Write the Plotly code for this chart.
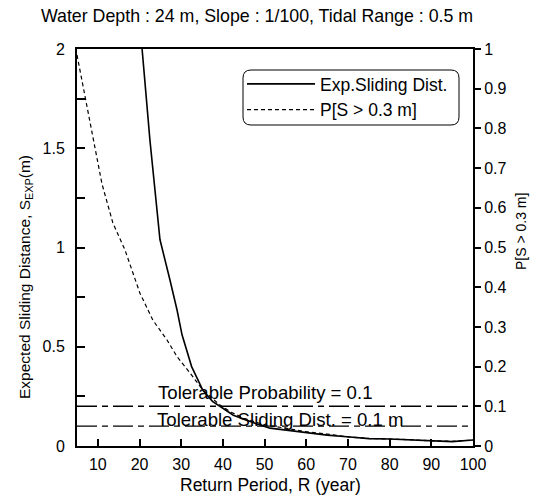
import plotly.graph_objects as go

# Expected sliding distance (left axis, m)
R_exp = [20.0, 20.6, 22.5, 23.7, 24.9, 27.3, 29.0, 30.2, 32.5, 35.2, 37.5, 40.0, 42.5,
         45.8, 48.0, 51.3, 55.0, 58.5, 60.9, 65.0, 70.5, 75.0, 80.0, 85.0, 90.4, 95.0, 100.0]
S_exp = [2.15, 2.00, 1.54, 1.29, 1.04, 0.836, 0.685, 0.56, 0.40, 0.28, 0.225, 0.19, 0.155,
         0.13, 0.112, 0.09, 0.08, 0.07, 0.065, 0.055, 0.045, 0.037, 0.035, 0.03, 0.025, 0.022, 0.03]

# Probability P[S > 0.3 m] (right axis)
R_p = [5.0, 8.84, 11.0, 13.6, 16.5, 20.1, 23.2, 26.6, 29.0, 32.1, 35.2, 39.3, 42.0, 45.0,
       50.0, 55.0, 60.0, 65.0, 70.0, 75.0, 80.0, 85.0, 90.0, 95.0, 100.0]
P = [0.985, 0.771, 0.66, 0.562, 0.494, 0.385, 0.317, 0.267, 0.225, 0.184, 0.141, 0.103, 0.085,
     0.07, 0.053, 0.045, 0.036, 0.03, 0.023, 0.019, 0.018, 0.016, 0.013, 0.012, 0.015]

# Tolerable limits
tol_prob = 0.1        # right axis
tol_slide = 0.1       # left axis (m)
R_span = [5, 100]

FONT = "Liberation Sans, Arial, sans-serif"
fs = 17.5
tick_fs = 16

# plot area in px: x 77..473, y 49..446
L, R, T, B = 77, 473, 49, 446
W, H = 542, 497
def px(xp):
    return (xp - L) / (R - L)
def py(yp):
    return (B - yp) / (B - T)

fig = go.Figure()
fig.add_trace(go.Scatter(x=R_exp, y=S_exp, mode="lines", name="Exp.Sliding Dist.",
                         line=dict(color="black", width=1.6)))
fig.add_trace(go.Scatter(x=R_p, y=P, mode="lines", name="P[S > 0.3 m]", yaxis="y2",
                         line=dict(color="black", width=1.2, dash="4px,3px")))
fig.add_trace(go.Scatter(x=R_span, y=[tol_prob, tol_prob], mode="lines", yaxis="y2", showlegend=False,
                         line=dict(color="black", width=1.4, dash="20px,5px,6px,5px")))
fig.add_trace(go.Scatter(x=R_span, y=[tol_slide, tol_slide], mode="lines", showlegend=False,
                         line=dict(color="black", width=1.4, dash="20px,5px,6px,5px")))

fig.add_annotation(x=50, y=0.27, xref="x", yref="y", text="Tolerable Probability = 0.1",
                   showarrow=False, font=dict(size=18.6, family=FONT, color="black"))
fig.add_annotation(x=53.7, y=0.136, xref="x", yref="y", text="Tolerable Sliding Dist. = 0.1 m",
                   showarrow=False, font=dict(size=18.6, family=FONT, color="black"))

# y-axis titles
fig.add_annotation(x=px(25), y=py(277), xref="paper", yref="paper", xanchor="center", yanchor="middle",
                   text="Expected Sliding Distance, S<sub>EXP</sub>(m)",
                   showarrow=False, textangle=-90, font=dict(size=15.5, family=FONT, color="black"))
fig.add_annotation(x=px(521), y=py(232), xref="paper", yref="paper", xanchor="center", yanchor="middle",
                   text="P[S > 0.3 m]",
                   showarrow=False, textangle=-90, font=dict(size=14, family=FONT, color="black"))
# x-axis title
fig.add_annotation(x=px(270), y=py(485), xref="paper", yref="paper", xanchor="center", yanchor="middle",
                   text="Return Period, R (year)",
                   showarrow=False, font=dict(size=fs, family=FONT, color="black"))

# rounded legend box
x0, x1, y0, y1 = px(243), px(459), py(125), py(70)
rx, ry = 8 / (R - L), 8 / (B - T)
path = (f"M{x0+rx},{y0} L{x1-rx},{y0} Q{x1},{y0} {x1},{y0+ry} L{x1},{y1-ry} Q{x1},{y1} {x1-rx},{y1} "
        f"L{x0+rx},{y1} Q{x0},{y1} {x0},{y1-ry} L{x0},{y0+ry} Q{x0},{y0} {x0+rx},{y0} Z")
fig.add_shape(type="path", path=path, xref="paper", yref="paper", line=dict(color="black", width=1))

fig.update_layout(
    width=W, height=H,
    margin=dict(l=L, r=W - R, t=T, b=H - B),
    paper_bgcolor="white", plot_bgcolor="white",
    font=dict(family=FONT, size=fs, color="black"),
    title=dict(text="Water Depth : 24 m, Slope : 1/100, Tidal Range : 0.5 m",
               x=257 / W, xanchor="center", xref="container",
               y=1 - 16 / H, yanchor="middle", yref="container",
               font=dict(size=17.8, family=FONT, color="black")),
    xaxis=dict(range=[5, 100], tickvals=[10, 20, 30, 40, 50, 60, 70, 80, 90, 100],
               ticks="inside", ticklen=7, tickwidth=1.5, tickcolor="black",
               tickfont=dict(size=tick_fs),
               showline=True, linecolor="black", linewidth=2, mirror=True,
               showgrid=False, zeroline=False, ticklabelstandoff=3, automargin=False),
    yaxis=dict(range=[0, 2], dtick=0.5, tick0=0,
               ticks="inside", ticklen=8, tickwidth=1.5, tickcolor="black",
               tickfont=dict(size=tick_fs),
               minor=dict(dtick=0.25, ticks="inside", ticklen=8, tickwidth=1.5, tickcolor="black"),
               showline=True, linecolor="black", linewidth=2, automargin=False,
               showgrid=False, zeroline=False, ticklabelstandoff=7),
    yaxis2=dict(range=[0, 1], dtick=0.1, tick0=0, overlaying="y", side="right",
                ticks="outside", ticklen=6, tickwidth=1.5, tickcolor="black",
                tickfont=dict(size=tick_fs),
                showline=True, linecolor="black", linewidth=2, automargin=False,
                showgrid=False, zeroline=False),
    legend=dict(x=px(242), y=py(66), xanchor="left", yanchor="top",
                bgcolor="rgba(0,0,0,0)", borderwidth=0, itemwidth=68,
                font=dict(size=fs, family=FONT, color="black")),
    showlegend=True,
)

fig.write_html("out.html", config={"displayModeBar": False},
               post_script="document.body.style.margin='0px';")
